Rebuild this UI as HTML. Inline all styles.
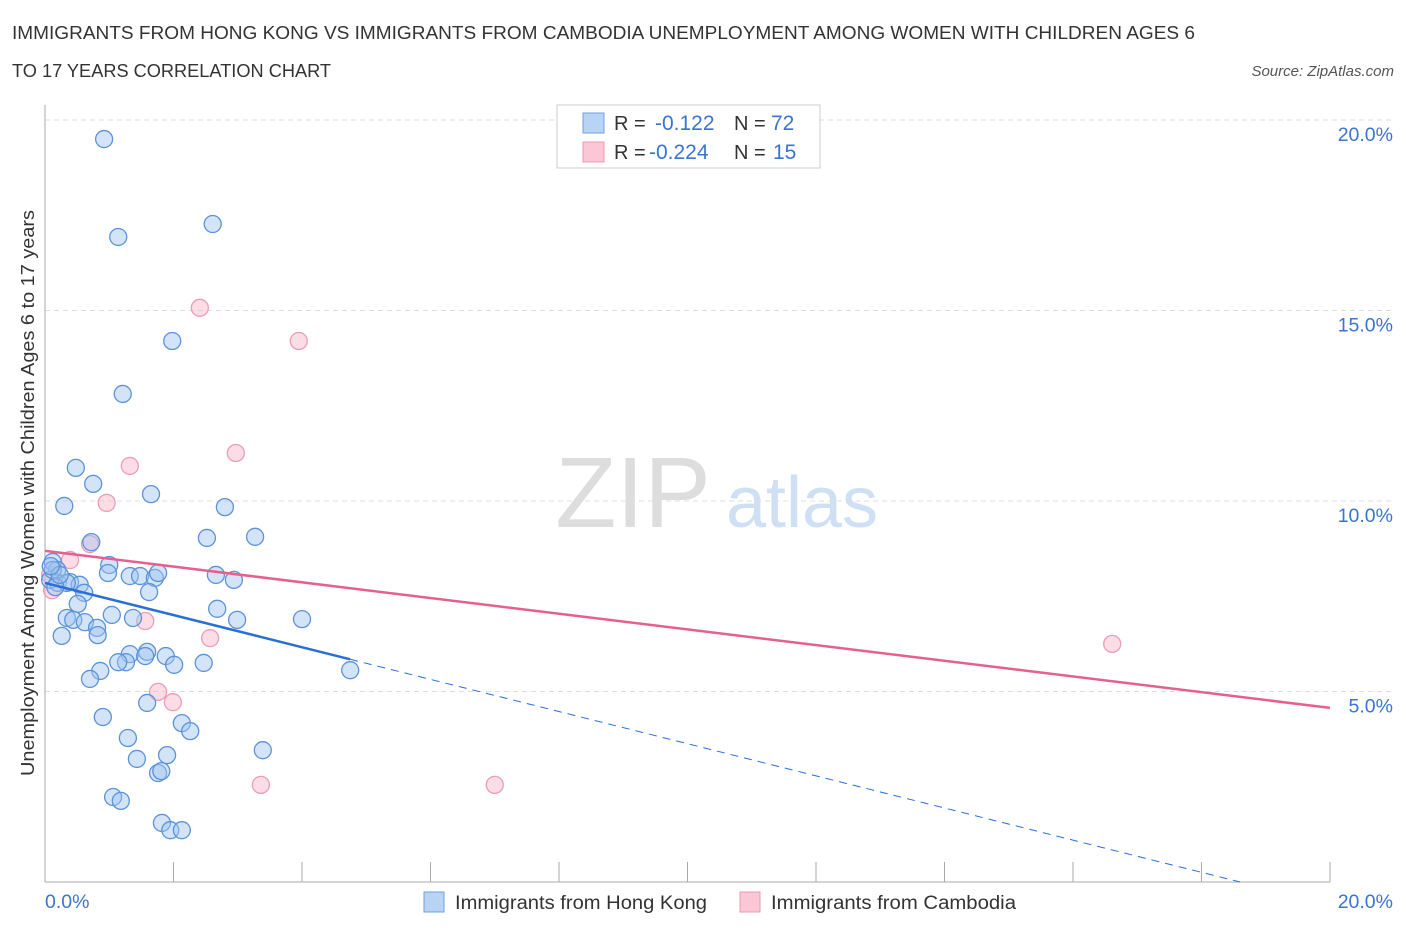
<!DOCTYPE html>
<html><head><meta charset="utf-8"><style>
body{margin:0;background:#fff;font-family:"Liberation Sans",sans-serif;}
svg text{font-family:"Liberation Sans",sans-serif;}
</style></head><body>
<svg id="chart" width="1406" height="930">
<text x="12" y="39" font-size="18" fill="#333" textLength="1183" lengthAdjust="spacingAndGlyphs">IMMIGRANTS FROM HONG KONG VS IMMIGRANTS FROM CAMBODIA UNEMPLOYMENT AMONG WOMEN WITH CHILDREN AGES 6</text>
<text x="12" y="77" font-size="18" fill="#333" textLength="319" lengthAdjust="spacingAndGlyphs">TO 17 YEARS CORRELATION CHART</text>
<text x="1394" y="76" font-size="15" fill="#555" font-style="italic" text-anchor="end">Source: ZipAtlas.com</text>
<text x="633" y="527" font-size="100" fill="#ddd" font-family="Liberation Serif" text-anchor="middle">ZIP</text>
<text x="802" y="527" font-size="72" fill="#cfe0f4" text-anchor="middle">atlas</text>
<text transform="translate(34,493) rotate(-90)" font-size="18" fill="#333" text-anchor="middle" textLength="566" lengthAdjust="spacingAndGlyphs">Unemployment Among Women with Children Ages 6 to 17 years</text>
<g id="grid"></g><g id="marks"></g>
<g>
<rect x="557" y="105" width="263" height="63" fill="#fff" stroke="#ccc"/>
<rect x="583" y="113" width="21" height="20" fill="#b9d3f5" stroke="#6fa0e0"/>
<rect x="583" y="142" width="21" height="20" fill="#fbc6d6" stroke="#ee98b4"/>
<text x="614" y="130" font-size="20" fill="#333">R =</text><text x="655" y="130" font-size="21" fill="#3b73d1">-0.122</text>
<text x="734" y="130" font-size="20" fill="#333">N =</text><text x="771" y="130" font-size="21" fill="#3b73d1">72</text>
<text x="614" y="159" font-size="20" fill="#333">R =</text><text x="649" y="159" font-size="21" fill="#3b73d1">-0.224</text>
<text x="734" y="159" font-size="20" fill="#333">N =</text><text x="773" y="159" font-size="21" fill="#3b73d1">15</text>
</g>
<g>
<rect x="424" y="892" width="20" height="20" fill="#b9d3f5" stroke="#6fa0e0"/>
<text x="455" y="909" font-size="19" fill="#333" textLength="252" lengthAdjust="spacingAndGlyphs">Immigrants from Hong Kong</text>
<rect x="740" y="892" width="20" height="20" fill="#fbc6d6" stroke="#ee98b4"/>
<text x="771" y="909" font-size="19" fill="#333" textLength="245" lengthAdjust="spacingAndGlyphs">Immigrants from Cambodia</text>
</g>
</svg>
<script>
const yTicks=[5,10,15,20];
const xTickLabels=["0.0%","20.0%"];
const hkX=[0.92,1.14,2.61,1.98,1.21,0.48,0.75,1.65,0.30,2.80,2.52,3.27,0.72,1.00,0.12,0.19,0.98,1.32,1.48,1.71,1.76,2.66,2.94,0.08,0.20,0.39,0.54,0.34,0.16,0.61,1.62,0.51,2.68,2.99,4.00,1.04,1.37,0.34,0.44,0.62,0.81,0.82,0.26,1.59,1.32,1.26,1.56,1.14,1.88,2.01,2.47,0.86,0.70,4.75,1.59,0.90,1.29,2.13,2.26,1.43,1.90,3.39,1.76,1.81,1.06,1.18,1.82,1.95,2.13,0.12,0.23,0.09];
const hkY=[19.50,16.93,17.27,14.20,12.81,10.87,10.45,10.18,9.87,9.84,9.03,9.06,8.92,8.32,8.40,8.19,8.11,8.03,8.03,7.98,8.11,8.06,7.93,7.93,7.85,7.87,7.80,7.85,7.74,7.59,7.61,7.30,7.17,6.88,6.90,7.01,6.93,6.93,6.88,6.82,6.67,6.48,6.46,6.04,5.98,5.77,5.93,5.77,5.93,5.70,5.75,5.54,5.33,5.56,4.70,4.33,3.78,4.17,3.96,3.23,3.33,3.46,2.86,2.91,2.23,2.13,1.55,1.36,1.36,8.19,8.06,8.29];
const khX=[2.41,3.95,2.97,1.32,0.96,0.70,0.39,0.08,0.11,1.56,2.57,1.76,1.99,3.36,7.00,16.61];
const khY=[15.07,14.20,11.26,10.92,9.95,8.87,8.45,8.06,7.66,6.85,6.40,4.99,4.72,2.55,2.55,6.25];
const hkTrend=[7.85,-0.422];
const khTrend=[8.69,-0.206];
const X0=45,X1=1330,Y0=882,Y20=120;
const sx=v=>X0+(X1-X0)*v/20, sy=v=>Y0-(Y0-Y20)*v/20;
const NS="http://www.w3.org/2000/svg";
function mk(t,a,p){const e=document.createElementNS(NS,t);for(const k in a)e.setAttribute(k,a[k]);p.appendChild(e);return e;}
const grid=document.getElementById('grid'),marks=document.getElementById('marks');
yTicks.forEach(v=>{
 const l=mk('line',{x1:X0,x2:1394,y1:sy(v),y2:sy(v),stroke:'#ddd','stroke-dasharray':'5,4'},grid);
 
 
 const t=mk('text',{x:1393,y:sy(v)+21,'font-size':19.5,fill:'#3b73d1','text-anchor':'end'},grid);
 t.textContent=v.toFixed(1)+'%';
 
 
});
mk('line',{x1:X0,x2:X0,y1:105,y2:Y0,stroke:'#aaa'},grid);
mk('line',{x1:X0,x2:X1,y1:Y0,y2:Y0,stroke:'#aaa'},grid);
for(let i=0;i<=10;i++){const x=sx(i*2);mk('line',{x1:x,x2:x,y1:Y0,y2:Y0-20,stroke:'#aaa'},grid);}
xTickLabels.forEach((s,i)=>{const t=mk('text',{x:i?1393:45,y:908,'font-size':19.5,fill:'#3b73d1','text-anchor':i?'end':'start'},grid);t.textContent=s;
 
 });
function dots(xs,ys,fill,stroke,name){xs.forEach((x,i)=>{const c=mk('circle',{cx:sx(x),cy:sy(ys[i]),r:8.5,fill:fill,stroke:stroke,'stroke-width':1.3},marks);
 
 });}
dots(khX,khY,'rgba(248,180,200,0.45)','#ec9cb7','cambodia-point');
dots(hkX,hkY,'rgba(160,196,240,0.45)','#5b93d9','hong-kong-point');
const hkEnd=Math.max(...hkX);
const zx=Math.min(20,-hkTrend[0]/hkTrend[1]);
let l=mk('line',{x1:sx(0),y1:sy(hkTrend[0]),x2:sx(hkEnd),y2:sy(hkTrend[0]+hkTrend[1]*hkEnd),stroke:'#2a6fd6','stroke-width':2.5},marks);


l=mk('line',{x1:sx(hkEnd),y1:sy(hkTrend[0]+hkTrend[1]*hkEnd),x2:sx(zx),y2:sy(hkTrend[0]+hkTrend[1]*zx),stroke:'#2a6fd6','stroke-width':1,'stroke-dasharray':'8,6'},marks);


l=mk('line',{x1:sx(0),y1:sy(khTrend[0]),x2:sx(20),y2:sy(khTrend[0]+khTrend[1]*20),stroke:'#e5608e','stroke-width':2.5},marks);


</script>
</body></html>
